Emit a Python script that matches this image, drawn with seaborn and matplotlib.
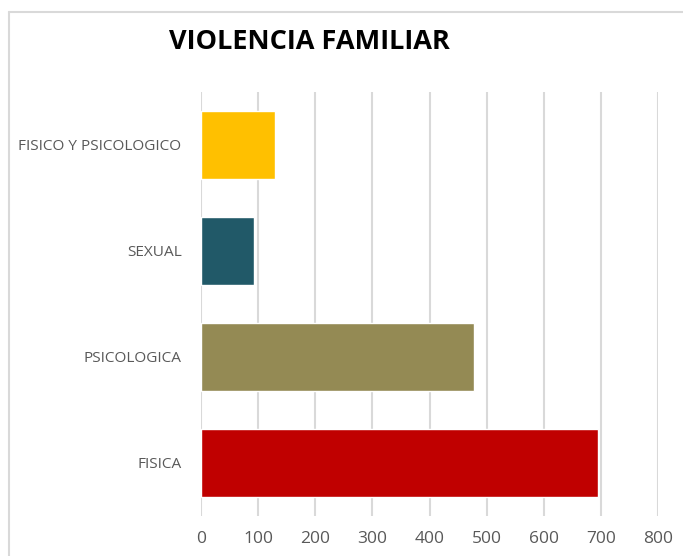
#!/usr/bin/env python3
"""Violencia familiar - horizontal bar chart."""

import matplotlib.pyplot as plt
import matplotlib.lines as mlines
import pandas as pd
import seaborn as sns

# Data (top to bottom as shown)
CATEGORIES = ["FISICO Y PSICOLOGICO", "SEXUAL", "PSICOLOGICA", "FISICA"]
VALUES = [130, 93, 478, 695]
COLORS = ["#FFC000", "#215968", "#948A54", "#C00000"]
X_TICKS = [0, 100, 200, 300, 400, 500, 600, 700, 800]

W, H = 683, 556


def main():
    sns.set_theme(style="white")
    plt.rcParams["font.family"] = ["Open Sans", "DejaVu Sans"]

    df = pd.DataFrame({"tipo": CATEGORIES, "casos": VALUES})

    fig = plt.figure(figsize=(W / 100, H / 100), dpi=100)
    ax = fig.add_axes([201 / W, 1 - 516 / H, (658 - 201) / W, (516 - 92) / H])

    sns.barplot(
        data=df, x="casos", y="tipo", hue="tipo", palette=COLORS,
        order=CATEGORIES, hue_order=CATEGORIES, legend=False,
        width=0.64, saturation=1, ax=ax, zorder=3,
    )

    ax.set_xlim(0, 800)
    ax.set_xticks(X_TICKS)
    ax.set_xticklabels([str(t) for t in X_TICKS])
    ax.grid(True, axis="x", color="#D9D9D9", linewidth=1.5, zorder=0)
    ax.set_axisbelow(True)
    for s in ax.spines.values():
        s.set_visible(False)
    ax.tick_params(axis="y", length=0, colors="#595959", labelsize=11.1, pad=14)
    ax.tick_params(axis="x", length=0, colors="#595959", labelsize=12.5, pad=11)
    ax.set_xlabel("")
    ax.set_ylabel("")

    fig.text(309 / W, 1 - 42 / H, "VIOLENCIA FAMILIAR", ha="center", va="center",
             fontsize=19.5, fontweight="bold", color="black")

    # chart area border (top and left visible)
    fig.add_artist(mlines.Line2D([9 / W, 1], [1 - 12 / H, 1 - 12 / H],
                                 color="#D9D9D9", linewidth=1.5))
    fig.add_artist(mlines.Line2D([9 / W, 9 / W], [0, 1 - 12 / H],
                                 color="#D9D9D9", linewidth=1.5))

    fig.savefig("out.png", dpi=100)
    plt.close(fig)


if __name__ == "__main__":
    main()
